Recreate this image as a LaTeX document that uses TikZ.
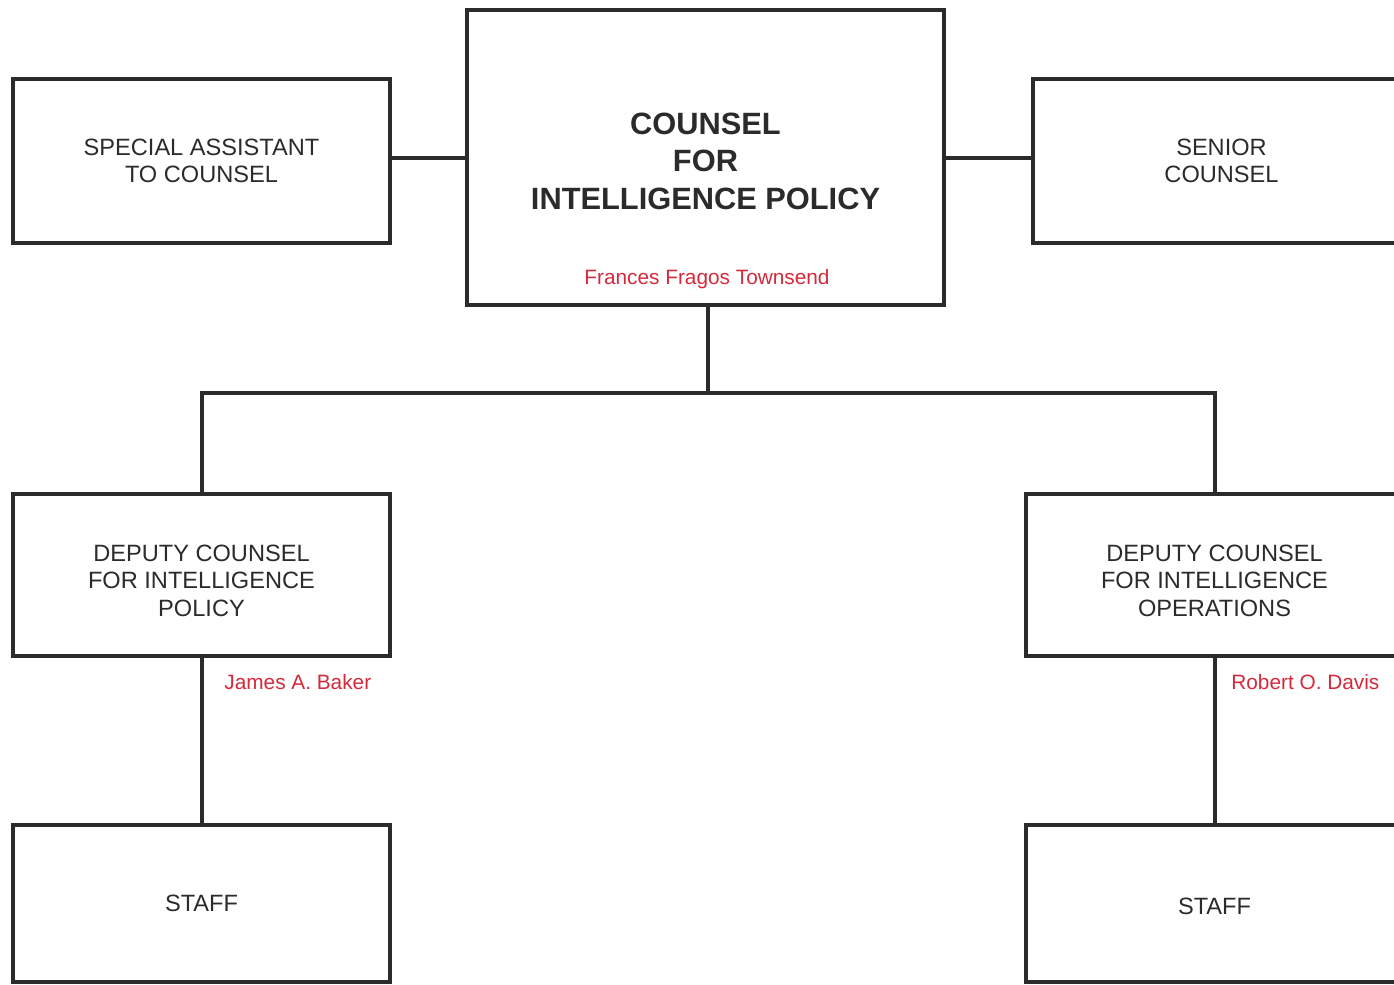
\documentclass[tikz,border=0pt]{standalone}
\usepackage{fontspec}
\setmainfont{Liberation Sans}
\usetikzlibrary{positioning,calc}

\definecolor{inkgray}{HTML}{2B2B2B}
\definecolor{namered}{HTML}{D42A3C}

% raise the top of a first line so the text sits a bit lower in its box
\newcommand{\toppad}[1]{\rule{0pt}{#1}}

\begin{document}
\begin{tikzpicture}[x=0.5pt,y=-0.5pt,
		line join=miter,
		office/.style={draw=inkgray,line width=1.8pt,text=inkgray,align=center,
			minimum width=188.5pt,minimum height=82pt,inner sep=0pt,
			font=\fontsize{11.8}{13.8}\selectfont},
		incumbent/.style={text=namered,inner sep=0pt,
			font=\fontsize{10.4}{12}\selectfont},
		link/.style={draw=inkgray,line width=2pt}]
	\clip (0,0) rectangle (1394,985);
	\fill[white] (0,0) rectangle (1394,985);

	% top row
	\node[office,minimum width=238.5pt,minimum height=147.5pt,
		font=\bfseries\fontsize{15.4}{18.8}\selectfont]
		(counsel) at (705.5,157.5) {\toppad{14.5pt}COUNSEL\\FOR\\INTELLIGENCE POLICY};
	\node[incumbent] (townsend) at (707,279) {Frances Fragos Townsend};
	\node[office] (special) at (201.5,161) {SPECIAL ASSISTANT\\TO COUNSEL};
	\node[office] (senior) at (1221.5,161) {SENIOR\\COUNSEL};

	% deputies
	\node[office,minimum height=81pt] (depPolicy) at (201.5,575)
		{\toppad{14pt}DEPUTY COUNSEL\\FOR INTELLIGENCE\\POLICY};
	\node[office,minimum height=81pt] (depOps) at (1214.5,575)
		{\toppad{14pt}DEPUTY COUNSEL\\FOR INTELLIGENCE\\OPERATIONS};
	\node[incumbent,anchor=west] (baker) at (224,682) {James A. Baker};
	\node[incumbent,anchor=west] (davis) at (1231,682) {Robert O. Davis};

	% staff
	\node[office,minimum height=78.5pt] (staffPolicy) at (201.5,903.5) {STAFF};
	\node[office,minimum height=78.5pt] (staffOps) at (1214.5,903.5) {\toppad{11pt}STAFF};

	\coordinate (bus) at (708,393);

	\path[link] (counsel.west) -- (counsel.west -| special.east)
		(counsel.east) -- (counsel.east -| senior.west)
		(counsel.south -| bus) -- (bus)
		(depPolicy.north) |- (bus) -| (depOps.north)
		(depPolicy.south) -- (staffPolicy.north)
		(depOps.south) -- (staffOps.north);
\end{tikzpicture}
\end{document}
